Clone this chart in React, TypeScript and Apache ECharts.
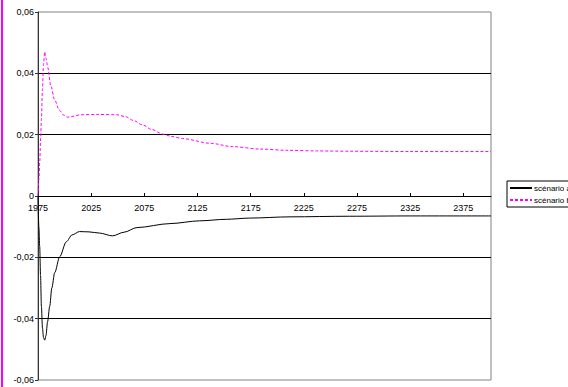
import React, { useEffect, useRef } from "react";
import * as echarts from "echarts";

const START_YEAR = 1975;
const END_YEAR = 2401;

const yearsA = [1975, 1975.8, 1976.6, 1977.4, 1978.2, 1979.2, 1980.2, 1981.3, 1982.5, 1984, 1986, 1988, 1990.7, 1995.4, 2001.7, 2007, 2014, 2023, 2033, 2045, 2056, 2068, 2099, 2127, 2152, 2174, 2212, 2268, 2325, 2401];
const valuesA = [0, -0.01, -0.0165, -0.026, -0.036, -0.043, -0.0462, -0.047, -0.0455, -0.041, -0.036, -0.03, -0.025, -0.0198, -0.0149, -0.0127, -0.0116, -0.0117, -0.0121, -0.013, -0.0118, -0.0103, -0.009, -0.0081, -0.0076, -0.0072, -0.0068, -0.0066, -0.0065, -0.0065];

const yearsB = [1975, 1976, 1976.6, 1977.5, 1978.2, 1979.2, 1980.2, 1981.3, 1982.5, 1984.1, 1987, 1990.7, 1995, 1999, 2003, 2008, 2015, 2030, 2049, 2057, 2065, 2073, 2082, 2092, 2101, 2111, 2137, 2158, 2184, 2209, 2237, 2268, 2325, 2401];
const valuesB = [0, 0.006, 0.011, 0.019, 0.025, 0.035, 0.043, 0.047, 0.045, 0.042, 0.036, 0.0313, 0.028, 0.0264, 0.0257, 0.026, 0.0265, 0.0266, 0.0265, 0.0259, 0.0246, 0.0232, 0.0217, 0.0202, 0.0194, 0.0187, 0.0172, 0.0161, 0.0153, 0.0149, 0.0147, 0.0146, 0.0145, 0.0145];

const seriesNames = ["scénario a", "scénario b"];

const FONT = "'Liberation Sans', Arial, sans-serif";

export default function App() {
  const ref = useRef<HTMLDivElement>(null);
  useEffect(() => {
    if (!ref.current) return;
    const chart = echarts.init(ref.current, undefined, { renderer: "svg" });
    const dataA = yearsA.map((y, i) => [y - START_YEAR, valuesA[i]]);
    const dataB = yearsB.map((y, i) => [y - START_YEAR, valuesB[i]]);
    chart.setOption({
      animation: false,
      backgroundColor: "#ffffff",
      grid: {
        left: 38,
        right: 77,
        top: 12,
        bottom: 7,
        outerBoundsMode: "none",
        containLabel: false,
        show: true,
        borderColor: "#808080",
        borderWidth: 1,
        backgroundColor: "transparent",
      },
      legend: {
        orient: "vertical",
        left: 507,
        top: 181,
        padding: [3, 40, 3, 2],
        itemWidth: 22,
        itemHeight: 10,
        itemGap: 4,
        borderColor: "#000",
        borderWidth: 1,
        itemStyle: { color: "transparent", borderWidth: 0, opacity: 0 },
        textStyle: { fontFamily: FONT, fontSize: 8, color: "#000", padding: [0, 0, 0, -3] },
        data: seriesNames,
      },
      xAxis: {
        type: "value",
        min: 0,
        max: END_YEAR - START_YEAR,
        interval: 50,
        offset: -184,
        axisLine: { onZero: false, lineStyle: { color: "#000", width: 1 } },
        axisTick: { show: true, inside: true, length: 3, lineStyle: { color: "#000" } },
        splitLine: { show: false },
        axisLabel: {
          margin: 7,
          fontFamily: FONT,
          fontSize: 9,
          color: "#000",
          showMaxLabel: false,
          formatter: (v: number) => (v % 50 === 0 ? String(v + START_YEAR) : ""),
        },
      },
      yAxis: {
        type: "value",
        min: -0.06,
        max: 0.06,
        interval: 0.02,
        axisLine: { show: true, onZero: false, lineStyle: { color: "#333", width: 1 } },
        axisTick: { show: true, length: 3, lineStyle: { color: "#333" } },
        splitLine: { show: true, showMinLine: false, showMaxLine: false, lineStyle: { color: "#000", width: 1 } },
        axisLabel: {
          margin: 4,
          fontFamily: FONT,
          fontSize: 9,
          color: "#000",
          formatter: (v: number) => {
            const r = Math.round(v * 100) / 100;
            if (Math.abs(r) < 1e-9) return "0";
            return r.toFixed(2).replace(".", ",");
          },
        },
      },
      series: [
        {
          name: seriesNames[0],
          type: "line",
          data: dataA,
          symbol: "none",
          smooth: 0.3,
          smoothMonotone: "x",
          lineStyle: { color: "#000", width: 1 },
          itemStyle: { color: "#000" },
        },
        {
          name: seriesNames[1],
          type: "line",
          data: dataB,
          symbol: "none",
          smooth: 0.3,
          smoothMonotone: "x",
          lineStyle: { color: "#FF00FF", width: 1, type: [3, 2] },
          itemStyle: { color: "#FF00FF" },
        },
      ],
      graphic: [
        {
          type: "rect",
          x: 1,
          y: 0,
          shape: { x: 0, y: 0, width: 2, height: 387 },
          style: { fill: "#FF00FF" },
          silent: true,
        },
      ],
    });
    return () => chart.dispose();
  }, []);
  return (
    <div
      ref={ref}
      style={{ position: "fixed", left: 0, top: 0, width: 568, height: 387 }}
    />
  );
}
